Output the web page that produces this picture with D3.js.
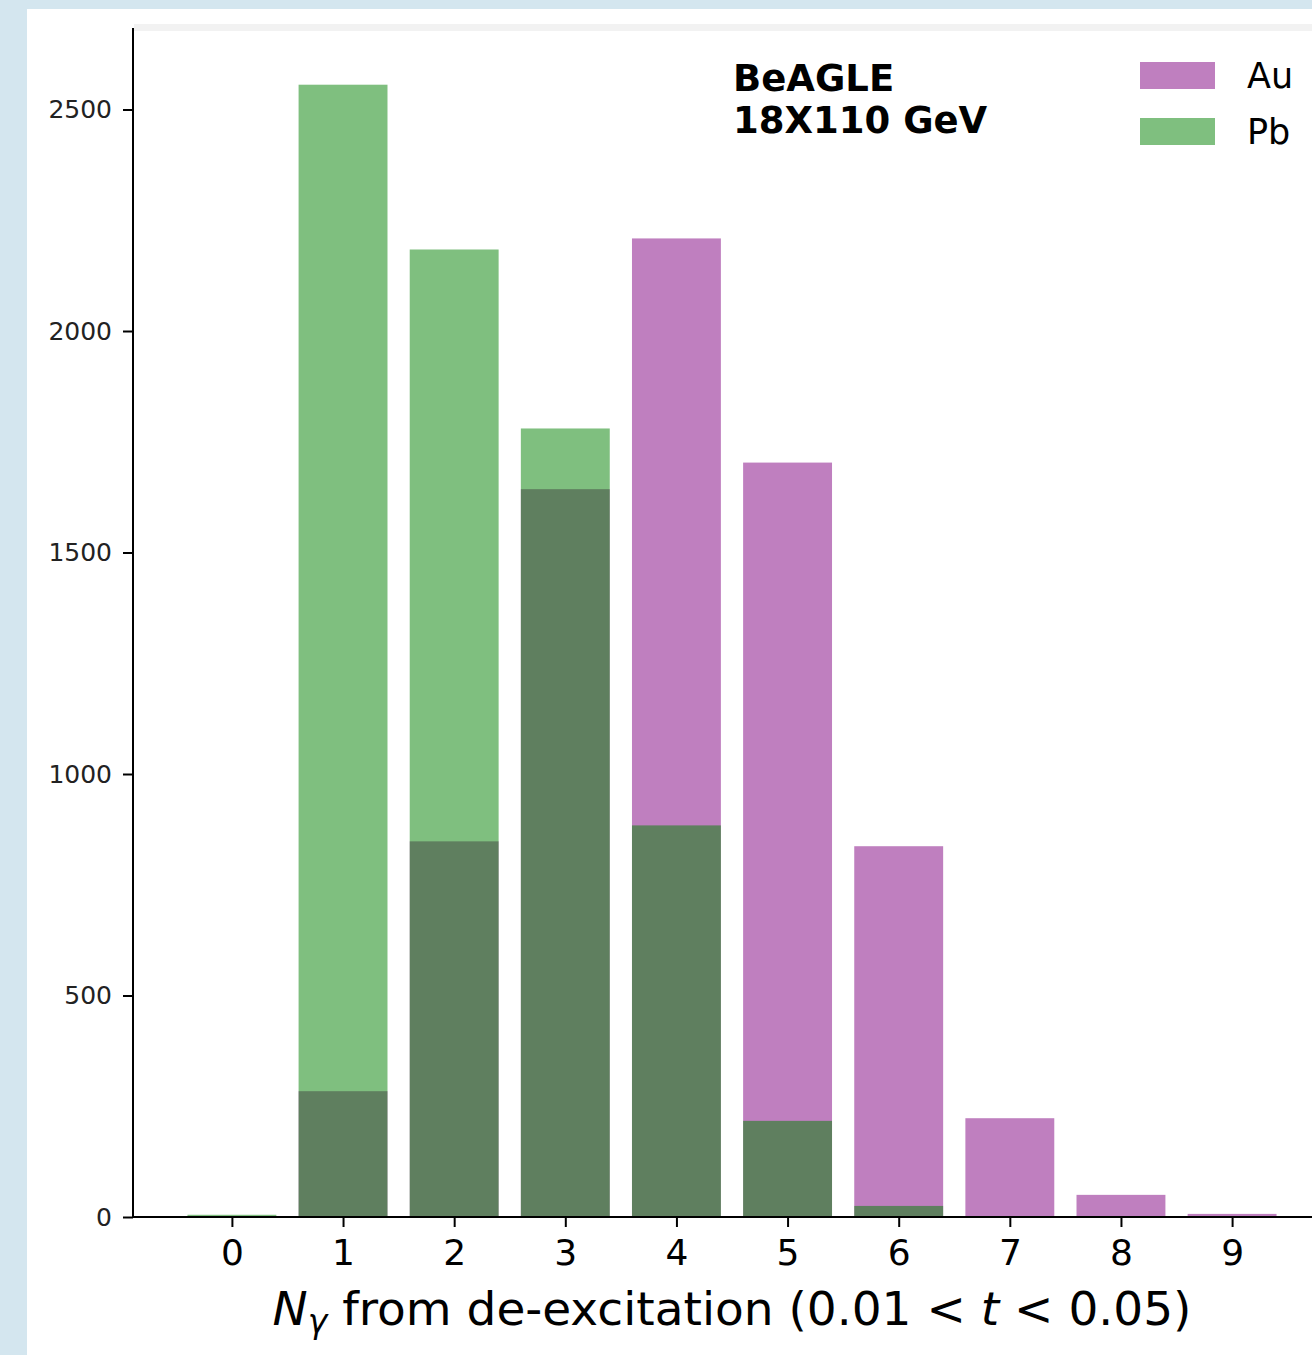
<!DOCTYPE html>
<html>
<head>
<meta charset="utf-8">
<script src="https://cdn.jsdelivr.net/npm/d3@7"></script>
<style>
  html, body { margin: 0; padding: 0; background: #d4e6ef; }
  svg { display: block; }
  text { font-family: "DejaVu Sans", sans-serif; fill: #000; }
</style>
</head>
<body>
<svg id="chart" width="1312" height="1355"></svg>
<script>
// Photon multiplicity bins and event counts per nucleus
const bins = [0, 1, 2, 3, 4, 5, 6, 7, 8, 9];
const auCounts = [0, 284, 848, 1643, 2209, 1703, 837, 223, 50, 7];
const pbCounts = [5, 2556, 2184, 1780, 884, 217, 25, 0, 0, 0];
const yTicks = [0, 500, 1000, 1500, 2000, 2500];
const seriesNames = ["Au", "Pb"];
const seriesColors = ["#800080", "#008000"];
const titleLines = ["BeAGLE", "18X110 GeV"];

(function () {
  const W = 1312, H = 1355;
  const svg = d3.select("#chart");

  // page backdrop and white figure panel
  svg.append("rect").attr("width", W).attr("height", H).attr("fill", "#d4e6ef");
  svg.append("rect").attr("x", 27).attr("y", 9).attr("width", W - 27).attr("height", H - 9).attr("fill", "#ffffff");

  const pL = 133, pR = 1331, pT = 28, pB = 1217;
  const x = d3.scaleLinear().domain([-0.89, 9.89]).range([pL, pR]);
  const y = d3.scaleLinear().domain([0, 2684]).range([pB, pT]);
  const barW = 0.8;

  // faint top edge of the axes box
  svg.append("rect").attr("x", pL + 1).attr("y", pT - 4).attr("width", W - pL).attr("height", 7)
    .attr("fill", "#f2f2f2");

  // bars: Au first, Pb drawn over it, both half-transparent
  [auCounts, pbCounts].forEach((vals, si) => {
    svg.append("g").selectAll("rect").data(bins).join("rect")
      .attr("x", d => x(d - barW / 2))
      .attr("width", d => x(d + barW / 2) - x(d - barW / 2))
      .attr("y", (d, i) => y(vals[i]))
      .attr("height", (d, i) => y(0) - y(vals[i]))
      .attr("fill", seriesColors[si])
      .attr("fill-opacity", 0.5);
  });

  // axes
  const yAxis = svg.append("g").attr("transform", `translate(${pL},0)`)
    .call(d3.axisLeft(y).tickValues(yTicks).tickSize(10).tickPadding(11).tickFormat(d3.format("d")));
  yAxis.selectAll("text").style("font-size", "25px").style("fill", "#222");
  yAxis.select(".domain").attr("stroke-width", 2).attr("d", `M0,${pT}V${pB}`);
  yAxis.selectAll(".tick line").attr("stroke-width", 2);

  const xAxis = svg.append("g").attr("transform", `translate(0,${pB})`)
    .call(d3.axisBottom(x).tickValues(bins).tickSize(10).tickPadding(12).tickFormat(d3.format("d")));
  xAxis.selectAll("text").style("font-size", "36px");
  xAxis.select(".domain").attr("stroke-width", 2).attr("d", `M${pL},0H${pR}`);
  xAxis.selectAll(".tick line").attr("stroke-width", 2);

  // x axis label with math styling
  const xl = svg.append("text")
    .attr("x", (pL + pR) / 2).attr("y", 1325)
    .attr("text-anchor", "middle").style("font-size", "47px");
  xl.append("tspan").style("font-style", "italic").text("N");
  xl.append("tspan").style("font-style", "italic").style("font-size", "33px").attr("dy", 8).text("γ");
  xl.append("tspan").attr("dy", -8).text(" from de-excitation (0.01 < ");
  xl.append("tspan").style("font-style", "italic").text("t");
  xl.append("tspan").text(" < 0.05)");

  // annotation
  const ann = svg.append("text").attr("x", 733).attr("y", 91)
    .style("font-size", "37px").style("font-weight", "bold");
  titleLines.forEach((t, i) => {
    ann.append("tspan").attr("x", 733).attr("dy", i === 0 ? 0 : 42).text(t);
  });

  // legend
  const lg = svg.append("g");
  seriesNames.forEach((name, i) => {
    const yy = 62 + i * 56;
    lg.append("rect").attr("x", 1140).attr("y", yy).attr("width", 75).attr("height", 27)
      .attr("fill", seriesColors[i]).attr("fill-opacity", 0.5);
    lg.append("text").attr("x", 1247).attr("y", yy + 26).style("font-size", "35px").text(name);
  });
})();
</script>
</body>
</html>
